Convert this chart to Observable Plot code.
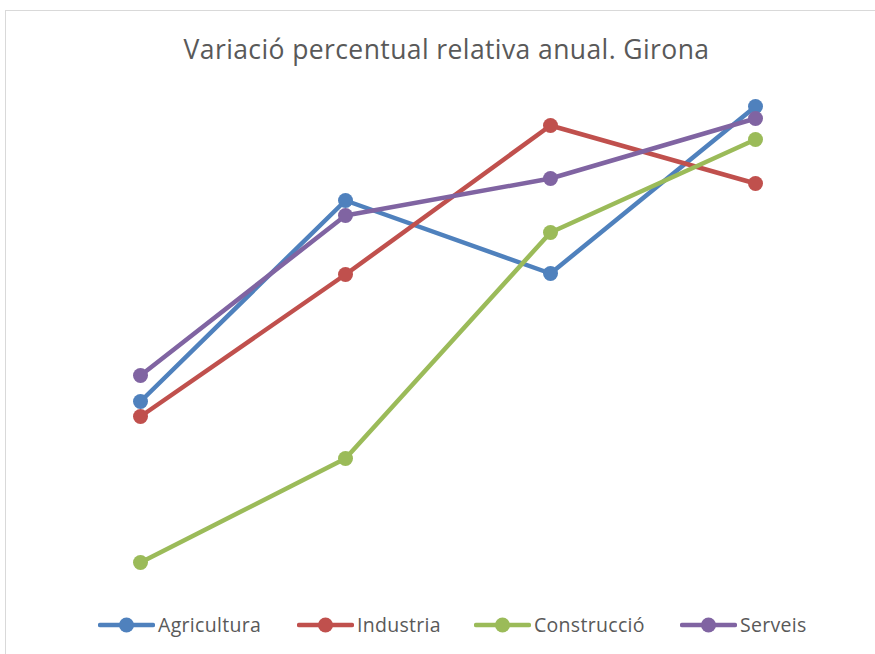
<!DOCTYPE html>
<html>
<head>
<meta charset="utf-8">
<script src="https://cdn.jsdelivr.net/npm/d3@7"></script>
<script src="https://cdn.jsdelivr.net/npm/@observablehq/plot@0.6"></script>
<style>
  html, body { margin: 0; padding: 0; background: #fff; }
  #wrap { position: relative; width: 875px; height: 654px; overflow: hidden; font-family: "Open Sans", sans-serif; }
  #frame { position: absolute; left: 5px; top: 10px; width: 880px; height: 660px; border: 1px solid #d9d9d9; box-sizing: border-box; }
  #title { position: absolute; left: 0; width: 893px; top: 29px; text-align: center; font-size: 26.5px; letter-spacing: 0.4px; color: #595959; line-height: 40px; }
  #chart { position: absolute; left: 0; top: 0; }
  #legend { position: absolute; top: 612px; left: 0; width: 875px; height: 26px; }
  .item { position: absolute; top: 0; display: flex; align-items: center; font-size: 19.5px; letter-spacing: 0.3px; color: #595959; line-height: 26px; }
  .item svg { display: block; margin-right: 3px; }
</style>
</head>
<body>
<div id="wrap">
  <div id="frame"></div>
  <div id="chart"></div>
  <div id="title">Variació percentual relativa anual. Girona</div>
  <div id="legend"></div>
</div>
<script>
// Data (no axis shown, arbitrary units)
const periods = ["Any 1", "Any 2", "Any 3", "Any 4"];
const seriesNames = ["Agricultura", "Industria", "Construcció", "Serveis"];
const agricultura = [1.79, 3.80, 3.07, 4.74];
const industria   = [1.64, 3.06, 4.55, 3.97];
const construccio = [0.18, 1.22, 3.48, 4.41];
const serveis     = [2.05, 3.65, 4.02, 4.62];
const colors = ["#4f81bd", "#c0504d", "#9bbb59", "#8064a2"];

const allSeries = [agricultura, industria, construccio, serveis];
const rows = [];
allSeries.forEach((vals, si) => vals.forEach((v, i) => rows.push({serie: seriesNames[si], period: periods[i], value: v})));

const marks = [];
seriesNames.forEach((name, si) => {
  const d = rows.filter(r => r.serie === name);
  marks.push(Plot.line(d, {x: "period", y: "value", stroke: colors[si], strokeWidth: 4.5, strokeLinecap: "round", strokeLinejoin: "round"}));
  marks.push(Plot.dot(d, {x: "period", y: "value", fill: colors[si], r: 7.5, stroke: "none"}));
});

const chart = Plot.plot({
  width: 875,
  height: 654,
  marginLeft: 139,
  marginRight: 119,
  marginTop: 80,
  marginBottom: 74,
  x: {type: "point", domain: periods, padding: 0, axis: null},
  y: {domain: [0, 5], axis: null},
  marks
});
chart.style.background = "transparent";
document.getElementById("chart").appendChild(chart);

// Legend
const legendX = [98, 297, 474, 680];
const legend = document.getElementById("legend");
seriesNames.forEach((name, si) => {
  const item = document.createElement("div");
  item.className = "item";
  item.style.left = legendX[si] + "px";
  item.innerHTML = `<svg width="57" height="26"><line x1="2" y1="13" x2="55" y2="13" stroke="${colors[si]}" stroke-width="4.5" stroke-linecap="round"/><circle cx="28.5" cy="13" r="7.5" fill="${colors[si]}"/></svg><span>${name}</span>`;
  legend.appendChild(item);
});
</script>
</body>
</html>
